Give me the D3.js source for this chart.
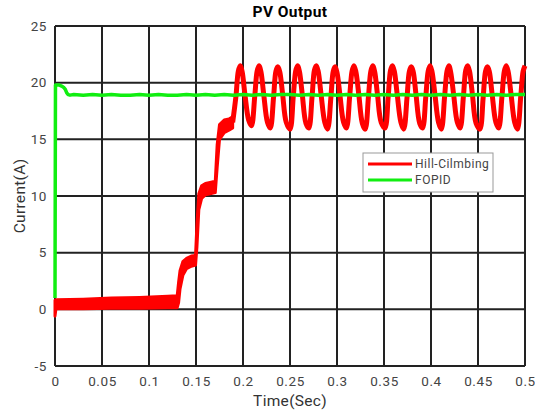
<!DOCTYPE html>
<html>

<head>
    <meta charset='utf-8'>
    <title>PV Output</title>
    <script type='text/javascript' src='https://cdn.jsdelivr.net/npm/d3@7/dist/d3.min.js'></script>
    <style>
        body { margin: 0; background: #fff; }
        text { font-family: Roboto, 'Liberation Sans', sans-serif; }
    </style>
</head>

<body>
    <svg width='535' height='413'></svg>
    <script type='text/javascript'>

        // axis ticks
        const xTicks = [0, 0.05, 0.1, 0.15, 0.2, 0.25, 0.3, 0.35, 0.4, 0.45, 0.5]
        const yTicks = [-5, 0, 5, 10, 15, 20, 25]

        // Hill-Climbing, start-up part: ripple band (low / high envelope)
        const bandTime = [0, 0.001, 0.03, 0.06, 0.09, 0.12, 0.13, 0.1315, 0.133, 0.136, 0.14, 0.145, 0.1495,
            0.151, 0.153, 0.156, 0.16, 0.165, 0.1705, 0.1725, 0.175, 0.18, 0.185, 0.189]
        const bandHigh = [0.8, 0.85, 0.9, 1.0, 1.05, 1.15, 1.2, 2.4, 3.4, 4.2, 4.5, 4.7, 4.75,
            7.5, 10.2, 10.9, 11.1, 11.2, 11.3, 14.5, 16.3, 16.7, 16.8, 17.0]
        const bandLow = [-0.6, 0.05, 0.05, 0.1, 0.1, 0.15, 0.15, 0.6, 1.8, 3.0, 3.6, 3.8, 3.9,
            5.5, 8.8, 9.8, 10.1, 10.2, 10.3, 12.5, 15.0, 15.6, 15.8, 16.0]

        // Hill-Climbing, steady oscillation
        const hcTime = [0.189, 0.1925, 0.195, 0.197, 0.199, 0.202, 0.206,
            0.209, 0.2125, 0.215, 0.217, 0.219, 0.222, 0.226,
            0.229, 0.2325, 0.235, 0.237, 0.239, 0.242, 0.246,
            0.250, 0.2535, 0.256, 0.258, 0.260, 0.263, 0.267,
            0.270, 0.2735, 0.276, 0.278, 0.280, 0.283, 0.287,
            0.290, 0.2935, 0.296, 0.298, 0.300, 0.303, 0.307,
            0.310, 0.3135, 0.316, 0.318, 0.320, 0.323, 0.327,
            0.330, 0.3335, 0.336, 0.338, 0.340, 0.343, 0.347,
            0.351, 0.3545, 0.357, 0.359, 0.361, 0.364, 0.368,
            0.371, 0.3745, 0.377, 0.379, 0.381, 0.384, 0.388,
            0.391, 0.3945, 0.397, 0.399, 0.401, 0.404, 0.408,
            0.411, 0.4145, 0.417, 0.419, 0.421, 0.424, 0.428,
            0.431, 0.4345, 0.437, 0.439, 0.441, 0.444, 0.448,
            0.452, 0.4555, 0.458, 0.460, 0.462, 0.465, 0.469,
            0.472, 0.4755, 0.478, 0.480, 0.482, 0.485, 0.489,
            0.492, 0.4955, 0.498, 0.500]
        const hcCurrent = [16.5, 18.8, 21.0, 21.5, 21.0, 19.0, 16.7,
            16.2, 18.8, 21.0, 21.5, 21.0, 19.0, 16.5,
            16.0, 18.7, 21.0, 21.4, 21.0, 19.1, 16.5,
            15.9, 18.8, 21.0, 21.5, 21.0, 19.0, 16.4,
            16.0, 18.8, 21.1, 21.5, 21.0, 19.0, 16.5,
            15.9, 18.7, 21.0, 21.4, 20.9, 19.0, 16.5,
            16.0, 18.8, 21.0, 21.5, 21.0, 19.1, 16.4,
            15.9, 18.8, 21.0, 21.5, 21.0, 19.0, 16.5,
            16.0, 18.8, 21.1, 21.5, 21.0, 19.0, 16.5,
            15.9, 18.7, 21.0, 21.4, 21.0, 19.0, 16.4,
            16.0, 18.8, 21.0, 21.5, 21.0, 19.1, 16.5,
            15.9, 18.8, 21.0, 21.5, 20.9, 19.0, 16.5,
            16.0, 18.8, 21.1, 21.5, 21.0, 19.0, 16.4,
            15.9, 18.7, 21.0, 21.4, 21.0, 19.0, 16.5,
            16.0, 18.8, 21.0, 21.5, 21.0, 19.1, 16.5,
            15.9, 18.8, 21.0, 21.5]

        // FOPID
        const fopidTime = [0, 0.0005, 0.004, 0.007, 0.009, 0.011, 0.0125, 0.014, 0.016, 0.02, 0.03, 0.04, 0.05,
            0.06, 0.07, 0.08, 0.09, 0.1, 0.11, 0.12, 0.13, 0.14, 0.15, 0.16, 0.17, 0.18, 0.19, 0.2,
            0.21, 0.22, 0.23, 0.24, 0.25, 0.26, 0.27, 0.28, 0.29, 0.3, 0.31, 0.32, 0.33, 0.34, 0.35,
            0.36, 0.37, 0.38, 0.39, 0.4, 0.41, 0.42, 0.43, 0.44, 0.45, 0.46, 0.47, 0.48, 0.49, 0.5]
        const fopidCurrent = [1.0, 19.8, 19.8, 19.7, 19.6, 19.4, 19.1, 18.95, 18.9, 18.95, 18.9, 18.95, 18.9,
            18.95, 18.9, 18.9, 18.95, 18.9, 18.95, 18.9, 18.9, 18.95, 18.9, 18.95, 18.9, 18.95, 18.9, 18.95,
            18.9, 18.95, 18.9, 18.95, 18.95, 18.9, 18.95, 18.9, 18.95, 18.9, 18.95, 18.9, 18.95, 18.9, 18.95,
            18.9, 18.95, 18.9, 18.95, 18.9, 18.95, 18.9, 18.95, 18.9, 18.95, 18.9, 18.95, 18.9, 18.95, 18.95]

        const svg = d3.select('svg')
        const margin = { top: 26, left: 55, bottom: 47, right: 10 }
        const innerWidth = 470
        const innerHeight = 340

        const x = d3.scaleLinear().domain([0, 0.5]).range([margin.left, margin.left + innerWidth])
        const y = d3.scaleLinear().domain([-5, 25]).range([margin.top + innerHeight, margin.top])

        svg.append('rect')
            .attr('width', 535).attr('height', 413).attr('fill', '#fff')

        // grid
        const grid = svg.append('g').attr('stroke', '#222').attr('stroke-width', 2)
        grid.selectAll('.vx').data(xTicks).enter().append('line')
            .attr('x1', d => x(d)).attr('x2', d => x(d))
            .attr('y1', y(-5)).attr('y2', y(25))
        grid.selectAll('.hy').data(yTicks).enter().append('line')
            .attr('y1', d => y(d)).attr('y2', d => y(d))
            .attr('x1', x(0)).attr('x2', x(0.5))

        // axes (labels only, frame drawn by grid)
        svg.append('g')
            .attr('transform', `translate(0,${y(-5)})`)
            .call(d3.axisBottom(x).tickValues(xTicks).tickSize(0).tickPadding(10).tickFormat(d3.format('~g')))
        svg.append('g')
            .attr('transform', `translate(${x(0)},0)`)
            .call(d3.axisLeft(y).tickValues(yTicks).tickSize(0).tickPadding(8).tickFormat(d => String(d)))
        svg.selectAll('.domain').remove()
        svg.selectAll('.tick text')
            .attr('font-size', 13.5)
            .attr('font-family', 'Roboto, sans-serif')
            .attr('letter-spacing', 0.6)
            .attr('fill', '#444')

        // Hill-Climbing band
        const band = d3.area()
            .x((d, i) => x(bandTime[i]))
            .y0((d, i) => y(bandLow[i]))
            .y1((d, i) => y(bandHigh[i]))
        svg.append('path')
            .datum(bandTime)
            .attr('d', band)
            .attr('fill', '#ff0000')
            .attr('stroke', '#ff0000')
            .attr('stroke-width', 3)
            .attr('stroke-linejoin', 'round')

        const hcLine = d3.line()
            .x((d, i) => x(hcTime[i]))
            .y(d => y(d))
            .curve(d3.curveCatmullRom)
        svg.append('path')
            .datum(hcCurrent)
            .attr('d', hcLine)
            .attr('fill', 'none')
            .attr('stroke', '#ff0000')
            .attr('stroke-width', 5)

        const fopidLine = d3.line()
            .x((d, i) => x(fopidTime[i]))
            .y(d => y(d))
        svg.append('path')
            .datum(fopidCurrent)
            .attr('d', fopidLine)
            .attr('fill', 'none')
            .attr('stroke', '#11ee11')
            .attr('stroke-width', 3.5)
            .attr('stroke-linejoin', 'round')

        // titles
        svg.append('text')
            .attr('x', 290).attr('y', 17)
            .attr('text-anchor', 'middle')
            .attr('font-size', 15.5).attr('font-weight', 'bold')
            .attr('letter-spacing', 0.4)
            .text('PV Output')
        svg.append('text')
            .attr('x', 290).attr('y', 406)
            .attr('text-anchor', 'middle')
            .attr('font-size', 15.5).attr('fill', '#333')
            .attr('letter-spacing', 0.3)
            .text('Time(Sec)')
        svg.append('text')
            .attr('transform', `translate(25,${y(10)}) rotate(-90)`)
            .attr('text-anchor', 'middle')
            .attr('font-size', 15.5).attr('fill', '#333')
            .attr('letter-spacing', 0.3)
            .text('Current(A)')

        // legend
        const legend = svg.append('g').attr('transform', 'translate(363,153)')
        legend.append('rect')
            .attr('width', 130).attr('height', 39)
            .attr('fill', '#fff').attr('stroke', '#999').attr('stroke-width', 1)
        const items = [['Hill-Cilmbing', '#ff0000'], ['FOPID', '#11ee11']]
        items.forEach((it, i) => {
            legend.append('line')
                .attr('x1', 5).attr('x2', 49)
                .attr('y1', 11 + i * 16).attr('y2', 11 + i * 16)
                .attr('stroke', it[1]).attr('stroke-width', 3)
            legend.append('text')
                .attr('x', 52).attr('y', 15 + i * 16)
                .attr('font-size', 12).attr('fill', '#444')
                .attr('letter-spacing', 0.5)
                .text(it[0])
        })
    </script>
</body>

</html>
